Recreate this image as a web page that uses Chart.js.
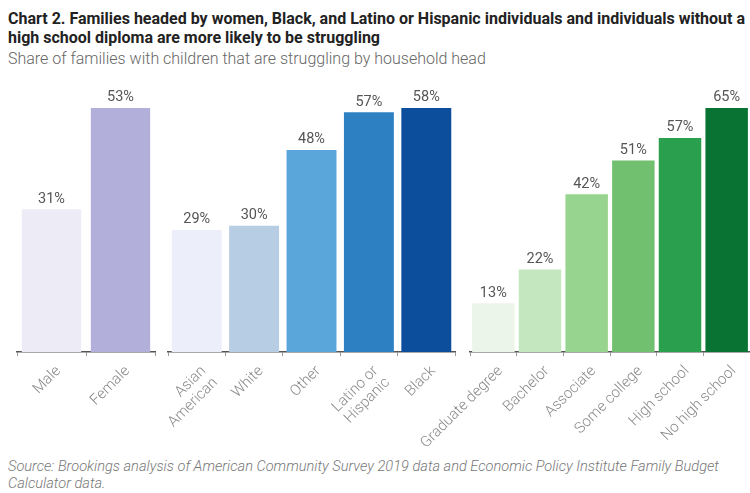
<!DOCTYPE html>
<html lang="en">

<head>
    <meta charset="UTF-8">
    <meta name="viewport" content="width=device-width, initial-scale=1.0">
    <title>Families struggling by household head</title>
    <script src="https://cdn.jsdelivr.net/npm/chart.js"></script>

    <style>
        body {
            margin: 0;
            background: #fff;
            font-family: Roboto, "Noto Sans", sans-serif;
        }

        #pagina {
            position: relative;
            width: 750px;
            height: 493px;
            overflow: hidden;
        }

        #titolo {
            position: absolute;
            left: 8px;
            top: 9px;
            font-size: 16px;
            font-weight: 700;
            line-height: 19px;
            color: #222;
            white-space: nowrap;
        }

        #sottotitolo {
            position: absolute;
            left: 8px;
            top: 49px;
            font-size: 16px;
            font-weight: 300;
            line-height: 20px;
            color: #666;
        }

        #fonte {
            position: absolute;
            left: 8px;
            top: 458px;
            font-size: 14.6px;
            font-weight: 300;
            font-style: italic;
            line-height: 17px;
            color: #777;
            white-space: nowrap;
        }

        .pannello {
            position: absolute;
            left: 0;
            top: 0;
            width: 750px;
            height: 493px;
        }
    </style>
</head>

<body>
    <div id="pagina">
        <div id="titolo">Chart 2. Families headed by women, Black, and Latino or Hispanic individuals and individuals without a<br>high school diploma are more likely to be struggling</div>
        <div id="sottotitolo">Share of families with children that are struggling by household head</div>
        <div id="fonte">Source: Brookings analysis of American Community Survey 2019 data and Economic Policy Institute Family Budget<br>Calculator data.</div>

        <div class="pannello"><canvas id="sesso"></canvas></div>
        <div class="pannello"><canvas id="razza"></canvas></div>
        <div class="pannello"><canvas id="istruzione"></canvas></div>
    </div>

    <script>
        // Dati: quota di famiglie con figli in difficolta' (%)
        const etichetteSesso = ['Male', 'Female'];
        const valoriSesso = [31, 53];

        const etichetteRazza = [['Asian', 'American'], 'White', 'Other', ['Latino or', 'Hispanic'], 'Black'];
        const valoriRazza = [29, 30, 48, 57, 58];

        const etichetteIstruzione = ['Graduate degree', 'Bachelor', 'Associate', 'Some college', 'High school', 'No high school'];
        const valoriIstruzione = [13, 22, 42, 51, 57, 65];

        // Colori delle barre per ciascun pannello
        const coloriSesso = ['#ecebf6', '#b2b0da'];
        const coloriRazza = ['#eceff9', '#b6cde4', '#5aa5da', '#2d80c2', '#0c4e9b'];
        const coloriIstruzione = ['#ecf5e9', '#c5e7bf', '#97d48f', '#70c06f', '#2aa04e', '#087332'];

        // Scrive la percentuale sopra ogni barra
        const etichetteValori = {
            id: 'etichetteValori',
            afterDatasetsDraw(chart) {
                const ctx = chart.ctx;
                const meta = chart.getDatasetMeta(0);
                const valori = chart.data.datasets[0].data;
                ctx.save();
                ctx.font = '14.5px Roboto';
                ctx.fillStyle = '#555';
                ctx.textAlign = 'center';
                ctx.textBaseline = 'bottom';
                meta.data.forEach(function (barra, i) {
                    ctx.fillText(valori[i] + '%', barra.x, barra.y - 3);
                });
                ctx.restore();
            }
        };

        function creaPannello(idCanvas, etichette, valori, colori, sinistra, destra, larghezzaBarra) {
            const canvas = document.getElementById(idCanvas).getContext('2d');
            return new Chart(canvas, {
                type: 'bar',
                data: {
                    labels: etichette,
                    datasets: [{
                        data: valori,
                        backgroundColor: colori,
                        borderWidth: 0,
                        barPercentage: larghezzaBarra,
                        categoryPercentage: 1
                    }]
                },
                options: {
                    responsive: true,
                    maintainAspectRatio: false,
                    animation: false,
                    events: [],
                    layout: {
                        padding: { left: sinistra, right: destra, top: 80, bottom: 0 }
                    },
                    plugins: {
                        legend: { display: false },
                        tooltip: { enabled: false }
                    },
                    scales: {
                        x: {
                            afterFit: function (scala) { scala.height = 141; },
                            grid: {
                                drawOnChartArea: false,
                                drawTicks: true,
                                tickLength: 4,
                                color: '#999'
                            },
                            border: { display: true, color: '#555', width: 1.5 },
                            ticks: {
                                autoSkip: false,
                                minRotation: 45,
                                maxRotation: 45,
                                padding: 7,
                                labelOffset: 7,
                                color: '#8a8a8a',
                                font: { family: 'Roboto', size: 15, weight: 300, lineHeight: 1.1 }
                            }
                        },
                        y: {
                            display: false,
                            min: 0,
                            // ogni pannello ha la sua scala: la barra piu' alta arriva sempre alla stessa quota
                            max: Math.max.apply(null, valori) * 1.115
                        }
                    }
                },
                plugins: [etichetteValori]
            });
        }

        creaPannello('sesso', etichetteSesso, valoriSesso, coloriSesso, 17, 750 - 155, 0.86);
        creaPannello('razza', etichetteRazza, valoriRazza, coloriRazza, 168, 750 - 455, 0.87);
        creaPannello('istruzione', etichetteIstruzione, valoriIstruzione, coloriIstruzione, 470, 0, 0.91);
    </script>
</body>

</html>
